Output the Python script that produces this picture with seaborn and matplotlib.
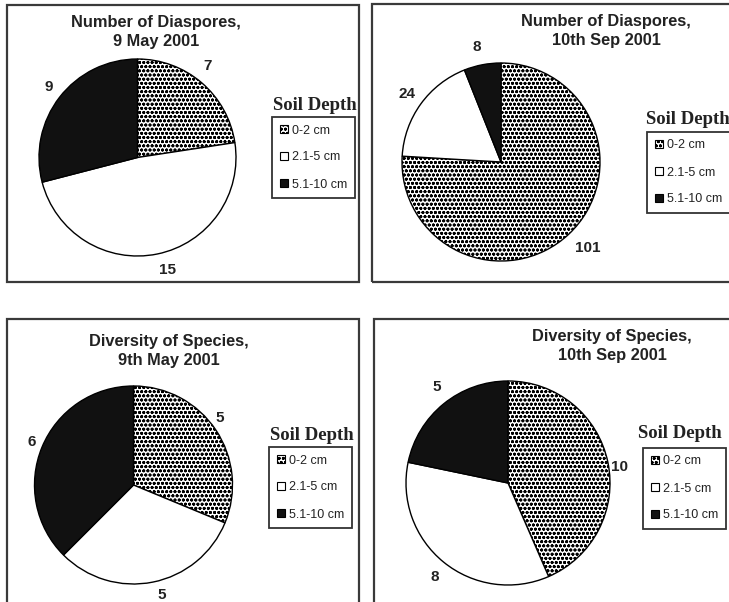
import matplotlib
matplotlib.use("Agg")
import matplotlib.pyplot as plt
import seaborn as sns
from matplotlib.patches import Patch, Rectangle

# ---------------- data ----------------
depths = ["0-2 cm", "2.1-5 cm", "5.1-10 cm"]
diaspores_may = [7, 15, 9]
diaspores_sep = [101, 24, 8]
species_may = [5, 5, 6]
species_sep = [10, 8, 5]
titles = ["Number of Diaspores,\n9 May 2001",
          "Number of Diaspores,\n10th Sep 2001",
          "Diversity of Species,\n9th May 2001",
          "Diversity of Species,\n10th Sep 2001"]
legend_title = "Soil Depth"

# ---------------- style ----------------
sns.set_theme(style="white")
plt.rcParams["font.family"] = ["Liberation Sans", "DejaVu Sans"]
plt.rcParams["hatch.linewidth"] = 0.9
plt.rcParams["hatch.color"] = "#1a1a1a"

W, H = 729, 602
fig = plt.figure(figsize=(W / 100, H / 100), dpi=100)
fig.patch.set_facecolor("white")

def fx(x):
    return x / W

def fy(y):
    return 1 - y / H

face_colors = ["white", "white", "#111111"]
hatches = ["oooo", "", ""]

# layout in pixel space of the figure
panels = [
    dict(values=diaspores_may, title=titles[0],
         border=(7, 5, 359, 282), title_xy=(156, 32),
         center=(137.5, 157.5), r=98.5,
         labels=[(208, 66), (167, 270), (49, 87)],
         lt_xy=(315, 106), box=(272, 117)),
    dict(values=diaspores_sep, title=titles[1],
         border=(372, 4, 760, 282), title_xy=(606, 31),
         center=(501, 162), r=99,
         labels=[(588, 248), (407, 94), (477, 47)],
         lt_xy=(688, 120), box=(647, 132)),
    dict(values=species_may, title=titles[2],
         border=(7, 319, 359, 640), title_xy=(169, 351),
         center=(133.5, 485), r=99,
         labels=[(220, 418), (162, 595), (32, 442)],
         lt_xy=(312, 435), box=(269, 447)),
    dict(values=species_sep, title=titles[3],
         border=(374, 319, 760, 640), title_xy=(612, 346),
         center=(508, 483), r=102,
         labels=[(620, 467), (435, 577), (437, 387)],
         lt_xy=(680, 433), box=(643, 448)),
]

for p in panels:
    x0, y0, x1, y1 = p["border"]
    fig.add_artist(Rectangle((fx(x0), fy(y1)), fx(x1) - fx(x0), fy(y0) - fy(y1),
                             transform=fig.transFigure, fill=False,
                             edgecolor="#3a3a3a", linewidth=1.6))
    fig.text(fx(p["title_xy"][0]), fy(p["title_xy"][1]), p["title"],
             ha="center", va="center", fontsize=11.8, fontweight="bold",
             color="#222222", linespacing=1.4)

    cx, cy = p["center"]
    r = p["r"]
    ax = fig.add_axes([fx(cx - r), fy(cy + r), 2 * r / W, 2 * r / H])
    wedges, texts = ax.pie(p["values"], labels=[str(v) for v in p["values"]],
                           startangle=90, counterclock=False, colors=face_colors,
                           wedgeprops=dict(edgecolor="black", linewidth=1.0),
                           textprops=dict(fontsize=11, fontweight="bold", color="#222222"))
    for w, h in zip(wedges, hatches):
        if h:
            w.set_hatch(h)
    for t, (lx, ly) in zip(texts, p["labels"]):
        t.set_position(((lx - cx) / r, (cy - ly) / r))
        t.set_ha("center")
        t.set_va("center")
    ax.set_xlim(-1, 1)
    ax.set_ylim(-1, 1)
    ax.set_aspect("auto")
    ax.axis("off")

    fig.text(fx(p["lt_xy"][0]), fy(p["lt_xy"][1]), legend_title,
             ha="center", va="center", fontsize=13.5, fontweight="bold",
             family=["Liberation Serif", "DejaVu Serif"], color="#222222")
    handles = [Patch(facecolor=c, edgecolor="black", hatch=h, linewidth=0.8)
               for c, h in zip(face_colors, hatches)]
    bx, by = p["box"]
    leg = fig.legend(handles, depths, loc="upper left",
                     bbox_to_anchor=(fx(bx), fy(by)), bbox_transform=fig.transFigure,
                     borderaxespad=0, frameon=True, fancybox=False,
                     edgecolor="black", fontsize=9, handlelength=0.65,
                     handleheight=0.65, handletextpad=0.35, labelspacing=1.2,
                     borderpad=0.6)
    leg.get_frame().set_linewidth(1.3)
    for t in leg.get_texts():
        t.set_color("#222222")

fig.savefig("out.png", dpi=100)
